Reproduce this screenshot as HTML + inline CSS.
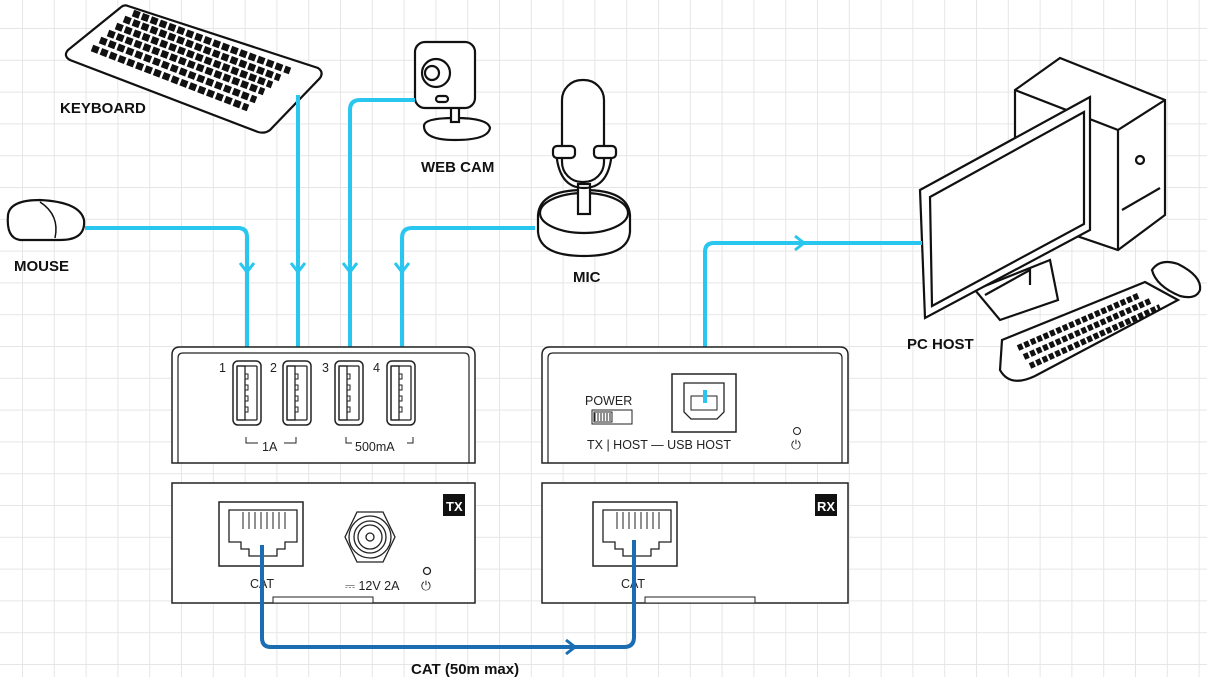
<!DOCTYPE html>
<html><head><meta charset="utf-8"><style>
html,body{margin:0;padding:0;background:#fff;}
svg{display:block;font-family:"Liberation Sans",sans-serif;}
.b{font-weight:bold;font-size:15px;fill:#111;}
.t{font-size:12.5px;fill:#222;}
</style></head><body>
<svg width="1207" height="677" viewBox="0 0 1207 677" xmlns="http://www.w3.org/2000/svg">
<defs>
<pattern id="g" x="22" y="28" width="31.8" height="31.8" patternUnits="userSpaceOnUse">
<path d="M0 0H31.8M0 0V31.8" stroke="#e6e6e6" stroke-width="2" fill="none"/>
</pattern>
<g id="usb">
<rect x="0" y="0" width="28" height="64" rx="5" fill="#fff" stroke="#222" stroke-width="1.5"/>
<rect x="4" y="5" width="20" height="54" rx="1" fill="none" stroke="#222" stroke-width="1.3"/>
<rect x="4" y="5" width="8" height="54" fill="none" stroke="#222" stroke-width="1.3"/>
<rect x="12" y="13" width="3" height="5" fill="none" stroke="#222"/>
<rect x="12" y="24" width="3" height="5" fill="none" stroke="#222"/>
<rect x="12" y="35" width="3" height="5" fill="none" stroke="#222"/>
<rect x="12" y="46" width="3" height="5" fill="none" stroke="#222"/>
</g>
<g id="rj">
<rect x="0" y="0" width="84" height="64" fill="#fff" stroke="#222" stroke-width="1.5"/>
<path d="M10 8H78V40H66V47H58V54H30V47H22V40H10Z" fill="none" stroke="#222" stroke-width="1.3"/>
<path d="M24 10V27M30 10V27M36 10V27M42 10V27M48 10V27M54 10V27M60 10V27M66 10V27" stroke="#222"/>
</g>
</defs>
<rect width="1207" height="677" fill="url(#g)"/>

<!-- keyboard -->
<g stroke="#111" stroke-width="2.2" fill="#fff">
<path d="M128 6 L318 68 Q324 72 320 78 L270 130 Q265 134 258 132 L70 60 Q63 56 68 50 L120 8 Q124 4 128 6Z"/>
<g stroke-width="7" stroke-dasharray="7 2.5">
<path d="M92 48 L248 108"/>
<path d="M100 40 L256 100"/>
<path d="M108 33 L264 92"/>
<path d="M116 26 L272 85"/>
<path d="M124 19 L280 78"/>
<path d="M133 13 L290 71"/>
</g>
</g>
<text x="60" y="113" class="b">KEYBOARD</text>

<!-- mouse -->
<path d="M8 215 Q10 200 40 200 Q80 202 84 220 Q86 240 60 240 L20 240 Q6 238 8 215Z" fill="#fff" stroke="#111" stroke-width="2.2"/>
<path d="M40 202 Q60 215 55 238" fill="none" stroke="#111" stroke-width="1.5"/>
<text x="14" y="271" class="b">MOUSE</text>

<!-- webcam -->
<g stroke="#111" stroke-width="2.2" fill="#fff">
<path d="M424 126 Q424 118 455 118 Q488 118 490 128 Q488 140 455 140 Q424 140 424 126Z"/>
<rect x="451" y="104" width="8" height="18"/>
<rect x="415" y="42" width="60" height="66" rx="10"/>
<circle cx="436" cy="73" r="14"/>
<circle cx="432" cy="73" r="7"/>
<rect x="436" y="96" width="12" height="6" rx="3"/>
</g>
<text x="421" y="172" class="b">WEB CAM</text>

<!-- mic -->
<g stroke="#111" stroke-width="2.2" fill="#fff">
<path d="M538 215 Q540 190 584 190 Q628 190 630 215 L630 232 Q628 256 584 256 Q540 256 538 232Z"/>
<ellipse cx="584" cy="213" rx="44" ry="20"/>
<rect x="578" y="184" width="12" height="30"/>
<path d="M556 150 Q558 188 584 188 Q610 188 612 150" fill="none"/>
<rect x="562" y="80" width="42" height="102" rx="20"/>
<rect x="553" y="146" width="22" height="12" rx="4"/>
<rect x="594" y="146" width="22" height="12" rx="4"/>
</g>
<text x="573" y="282" class="b">MIC</text>

<!-- PC -->
<g stroke="#111" stroke-width="2.2" fill="#fff">
<path d="M1015 90 L1060 58 L1165 100 L1165 215 L1118 250 L1015 215Z"/>
<path d="M1015 90 L1118 130 L1118 250 M1118 130 L1165 100"/>
<circle cx="1140" cy="160" r="4"/>
<path d="M1122 210 L1160 188"/>
<path d="M975 290 L1050 260 L1058 300 L1000 320 Z"/>
<path d="M985 295 L1030 270 L1030 285"/>
<path d="M920 190 L1090 97 L1090 230 L925 318 Z"/>
<path d="M930 197 L1084 112 L1084 224 L932 306 Z"/>
<path d="M1002 340 L1145 282 L1178 300 L1035 376 Q1010 388 1000 370 Z"/>
<g stroke-width="6" stroke-dasharray="5 2">
<path d="M1018 348 L1140 295"/>
<path d="M1024 357 L1150 301"/>
<path d="M1030 366 L1160 307"/>
</g>
<path d="M1152 270 Q1160 258 1178 264 Q1202 276 1200 290 Q1196 300 1180 296 Q1156 286 1152 270Z"/>
</g>
<text x="907" y="349" class="b">PC HOST</text>

<!-- light blue lines -->
<g fill="none" stroke="#29c6ef" stroke-width="4">
<path d="M85 228 H238 Q247 228 247 237 V392"/>
<path d="M298 95 V392"/>
<path d="M415 100 H360 Q350 100 350 110 V392"/>
<path d="M535 228 H412 Q402 228 402 238 V392"/>
<path d="M705 390 V252 Q705 243 714 243 H922"/>
</g>
<g fill="none" stroke="#29c6ef" stroke-width="3">
<path d="M240 263 L247 272 L254 263"/>
<path d="M291 263 L298 272 L305 263"/>
<path d="M343 263 L350 272 L357 263"/>
<path d="M395 263 L402 272 L409 263"/>
<path d="M795 236 L804 243 L795 250"/>
</g>

<!-- TX top -->
<path d="M172 463 V355 Q172 347 180 347 H467 Q475 347 475 355 V463 Z" fill="#fff" stroke="#222" stroke-width="1.5"/>
<path d="M178 463 V358 Q178 353 183 353 H464 Q469 353 469 358 V463" fill="none" stroke="#222" stroke-width="1.2"/>
<text x="219" y="372" class="t">1</text><text x="270" y="372" class="t">2</text><text x="322" y="372" class="t">3</text><text x="373" y="372" class="t">4</text>
<use href="#usb" x="233" y="361"/><use href="#usb" x="283" y="361"/><use href="#usb" x="335" y="361"/><use href="#usb" x="387" y="361"/>
<path d="M246 437 V443 H258 M284 443 H296 V437 M346 437 V443 H352 M407 443 H413 V437" fill="none" stroke="#222"/>
<text x="262" y="451" class="t">1A</text><text x="355" y="451" class="t">500mA</text>
<!-- TX bottom -->
<rect x="172" y="483" width="303" height="120" fill="#fff" stroke="#222" stroke-width="1.5"/>
<rect x="273" y="597" width="100" height="6" fill="#fff" stroke="#222"/>
<rect x="443" y="494" width="22" height="22" fill="#111"/>
<text x="446" y="511" font-size="13" font-weight="bold" fill="#fff">TX</text>
<use href="#rj" x="219" y="502"/>
<g fill="none" stroke="#222" stroke-width="1.3">
<path d="M357 512 H383 L395 537 L383 562 H357 L345 537 Z"/>
<circle cx="370" cy="537" r="21"/><circle cx="370" cy="537" r="16"/><circle cx="370" cy="537" r="12"/><circle cx="370" cy="537" r="4"/>
<circle cx="427" cy="571" r="3.5"/>
</g>
<text x="250" y="588" class="t">CAT</text>
<text x="345" y="590" class="t">⎓ 12V 2A</text>
<text x="421" y="590" class="t">⏻</text>

<!-- RX top -->
<path d="M542 463 V355 Q542 347 550 347 H840 Q848 347 848 355 V463 Z" fill="#fff" stroke="#222" stroke-width="1.5"/>
<path d="M548 463 V358 Q548 353 553 353 H837 Q842 353 842 358 V463" fill="none" stroke="#222" stroke-width="1.2"/>
<text x="585" y="405" class="t">POWER</text>
<rect x="592" y="410" width="40" height="14" fill="#fff" stroke="#222"/>
<path d="M595 413 V421 M598 413 V421 M601 413 V421 M604 413 V421 M607 413 V421 M610 413 V421" stroke="#222"/>
<rect x="594" y="412" width="18" height="10" fill="none" stroke="#222"/>
<rect x="672" y="374" width="64" height="58" fill="#fff" stroke="#222" stroke-width="1.5"/>
<path d="M684 383 H724 V412 L717 419 H691 L684 412 Z" fill="none" stroke="#222" stroke-width="1.3"/>
<rect x="691" y="396" width="26" height="14" fill="none" stroke="#222"/>
<text x="587" y="449" class="t">TX | HOST — USB HOST</text>
<circle cx="797" cy="431" r="3.5" fill="none" stroke="#222"/>
<text x="791" y="449" class="t">⏻</text>
<path d="M705 390 V403" stroke="#29c6ef" stroke-width="4"/>
<!-- RX bottom -->
<rect x="542" y="483" width="306" height="120" fill="#fff" stroke="#222" stroke-width="1.5"/>
<rect x="645" y="597" width="110" height="6" fill="#fff" stroke="#222"/>
<rect x="815" y="494" width="22" height="22" fill="#111"/>
<text x="817" y="511" font-size="13" font-weight="bold" fill="#fff">RX</text>
<use href="#rj" x="593" y="502"/>
<text x="621" y="588" class="t">CAT</text>

<!-- dark blue CAT -->
<path d="M262 545 V638 Q262 647 271 647 H624 Q634 647 634 637 V540" fill="none" stroke="#1a6db3" stroke-width="4"/>
<path d="M566 640 L575 647 L566 654" fill="none" stroke="#1a6db3" stroke-width="3"/>
<text x="411" y="674" class="b">CAT (50m max)</text>
</svg>
</body></html>
